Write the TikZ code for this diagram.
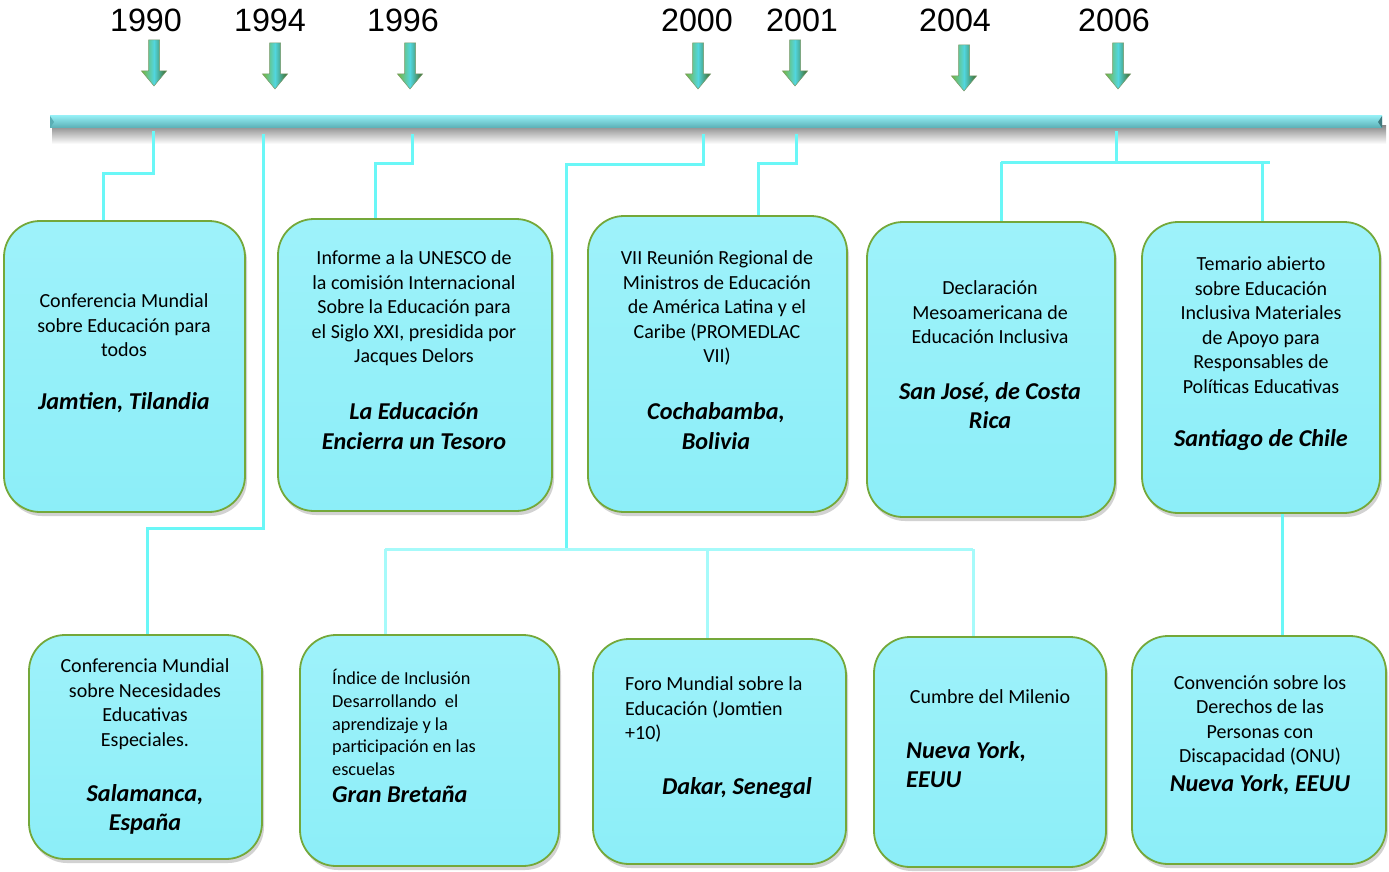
\documentclass[tikz,border=0pt]{standalone}
\usepackage{fontspec}
\setmainfont{Carlito}
\newfontfamily\yearfont{Liberation Sans}
\usetikzlibrary{shadows}
\definecolor{boxfill}{HTML}{8CEEF8}
\definecolor{boxtop}{HTML}{9EF2FA}
\definecolor{boxline}{HTML}{74A83A}
\definecolor{connc}{HTML}{6AF7F7}
\definecolor{agreen}{HTML}{78B43C}
\definecolor{adark}{HTML}{3E6A26}
\definecolor{acyan}{HTML}{52D6DE}
\definecolor{barlight}{HTML}{92ECF2}
\definecolor{barteal}{HTML}{5AAEB4}
\begin{document}
\begin{tikzpicture}[x=1pt,y=-1pt,
  evbox/.style={draw=boxline, line width=1.8pt, rounded corners=36pt,
    top color=boxtop, bottom color=boxfill, inner sep=0pt,
    drop shadow={shadow xshift=2pt, shadow yshift=-4pt, fill=black!35}},
  desc/.style={font=\fontsize{20}{24.5}\selectfont, align=center, inner sep=0pt, text=black},
  small/.style={font=\fontsize{18.3}{22.8}\selectfont, align=left, inner sep=0pt, text=black},
  place/.style={font=\fontsize{24.2}{29.5}\selectfont\bfseries\itshape, align=center, inner sep=0pt, text=black},
  year/.style={font=\yearfont\fontsize{32.3}{33}\selectfont, anchor=base, inner sep=0pt},
  conn/.style={draw=connc, line width=3pt},
  yarrow/.pic={\path[left color=agreen, right color=adark, middle color=acyan, draw=adark!70, line width=0.5pt]
     (-5.5,0) -- (5.5,0) -- (5.5,31) -- (12.5,31) -- (0,46) -- (-12.5,31) -- (-5.5,31) -- cycle;}
]
\useasboundingbox (0,0) rectangle (1389,872);

% years
\node[year] (y1990) at (146,32) {1990};
\node[year] (y1994) at (270,32) {1994};
\node[year] (y1996) at (403,32) {1996};
\node[year] (y2000) at (697,32) {2000};
\node[year] (y2001) at (802,32) {2001};
\node[year] (y2004) at (955,32) {2004};
\node[year] (y2006) at (1114,32) {2006};

\pic at (154,40) {yarrow};
\pic at (275,43) {yarrow};
\pic at (410,43) {yarrow};
\pic at (698,43) {yarrow};
\pic at (795,40) {yarrow};
\pic at (964,45) {yarrow};
\pic at (1118,43) {yarrow};

% timeline bar
\fill[top color=black!45, bottom color=white] (52,126) rectangle (1386,144);
\path[top color=barlight, bottom color=barteal] (50,116) rectangle (1382,128);
\fill[barteal!70!black] (1382,116) -- (1378,122) -- (1382,128) -- cycle;
\fill[barteal] (50,116) -- (54,122) -- (50,128) -- cycle;

% boxes
\node[evbox, minimum width=241, minimum height=291] (b1) at (124.5,366.5) {};
\node[evbox, minimum width=274, minimum height=292] (b2) at (415,365) {};
\node[evbox, minimum width=259, minimum height=296] (b3) at (717.5,364) {};
\node[evbox, minimum width=248, minimum height=295] (b4) at (991,369.5) {};
\node[evbox, minimum width=238, minimum height=291] (b5) at (1261,367.5) {};
\node[evbox, minimum width=233, minimum height=224] (b6) at (145.5,747) {};
\node[evbox, minimum width=259, minimum height=231] (b7) at (429.5,750.5) {};
\node[evbox, minimum width=253, minimum height=225] (b8) at (719.5,751.5) {};
\node[evbox, minimum width=232, minimum height=230] (b9) at (990,752) {};
\node[evbox, minimum width=254, minimum height=228] (b10) at (1259,750) {};

% texts
\node[desc] (d1) at (124,325.5) {Conferencia Mundial\\sobre Educación para\\todos};
\node[place] (p1) at (124,403) {Jamtien, Tilandia};
\node[desc] (d2) at (414,308.5) {Informe a la UNESCO de\\la comisión Internacional\\Sobre la Educación para\\el Siglo XXI, presidida por\\Jacques Delors};
\node[place] (p2) at (414,426) {La Educación\\Encierra un Tesoro};
\node[desc] (d3) at (717,308) {VII Reunión Regional de\\Ministros de Educación\\de América Latina y el\\Caribe (PROMEDLAC\\VII)};
\node[place] (p3) at (716,426) {Cochabamba,\\Bolivia};
\node[desc] (d4) at (990,312.5) {Declaración\\Mesoamericana de\\Educación Inclusiva};
\node[place] (p4) at (990,405.5) {San José, de Costa\\Rica};
\node[desc] (d5) at (1261,325) {Temario abierto\\sobre Educación\\Inclusiva Materiales\\de Apoyo para\\Responsables de\\Políticas Educativas};
\node[place] (p5) at (1261,440) {Santiago de Chile};
\node[desc] (d6) at (145,704) {Conferencia Mundial\\sobre Necesidades\\Educativas\\Especiales.};
\node[place] (p6) at (145,809.5) {Salamanca,\\España};
\node[small, anchor=west] (d7) at (332,722.5) {Índice de Inclusión\\Desarrollando\ \ el\\aprendizaje y la\\participación en las\\escuelas};
\node[place, anchor=west] (p7) at (332,794) {Gran Bretaña};
\node[desc, align=left, anchor=west] (d8) at (625,709.5) {Foro Mundial sobre la\\Educación (Jomtien\\+10)};
\node[place] (p8) at (737,788) {Dakar, Senegal};
\node[desc] (d9) at (990,697) {Cumbre del Milenio};
\node[place, align=left, anchor=west] (p9) at (906,764.5) {Nueva York,\\EEUU};
\node[desc] (d10) at (1260,720.5) {Convención sobre los\\Derechos de las\\Personas con\\Discapacidad (ONU)};
\node[place] (p10) at (1260,785) {Nueva York, EEUU};

% connectors
\coordinate (t1990) at (153,131);
\coordinate (k1990) at (103,173);
\draw[conn] (t1990) |- (k1990) -- (k1990 |- b1.north);

\coordinate (t1994) at (263,134);
\coordinate (k1994) at (147,528);
\draw[conn] (t1994) |- (k1994) -- (k1994 |- b6.north);

\coordinate (t1996) at (412,134);
\coordinate (k1996) at (375,163);
\draw[conn] (t1996) |- (k1996) -- (k1996 |- b2.north);

\coordinate (t2000) at (703,134);
\coordinate (k2000) at (566,164);
\coordinate (j2000) at (566,549);
\draw[conn] (t2000) |- (k2000) -- (j2000);
\coordinate (e7) at (385,549);
\coordinate (e8) at (707,549);
\coordinate (e9) at (973,549);
\draw[conn, draw=connc!60!white] (e7) -- (e9);
\draw[conn, draw=connc!60!white] (e7) -- (e7 |- b7.north);
\draw[conn, draw=connc!60!white] (e8) -- (e8 |- b8.north);
\draw[conn, draw=connc!60!white] (e9) -- (e9 |- b9.north);

\coordinate (t2001) at (796,134);
\coordinate (k2001) at (758,163);
\draw[conn] (t2001) |- (k2001) -- (k2001 |- b3.north);

\coordinate (t2006) at (1116,131);
\coordinate (j2006) at (1116,162);
\coordinate (e4) at (1001,162);
\coordinate (e5) at (1262,162);
\coordinate (e5r) at (1270,162);
\draw[conn] (t2006) -- (j2006);
\draw[conn] (e4) -- (e5r);
\draw[conn] (e4) -- (e4 |- b4.north);
\draw[conn] (e5) -- (e5 |- b5.north);

\coordinate (k510) at (1282,600);
\draw[conn] (k510 |- b5.south) -- (k510 |- b10.north);
\end{tikzpicture}
\end{document}
